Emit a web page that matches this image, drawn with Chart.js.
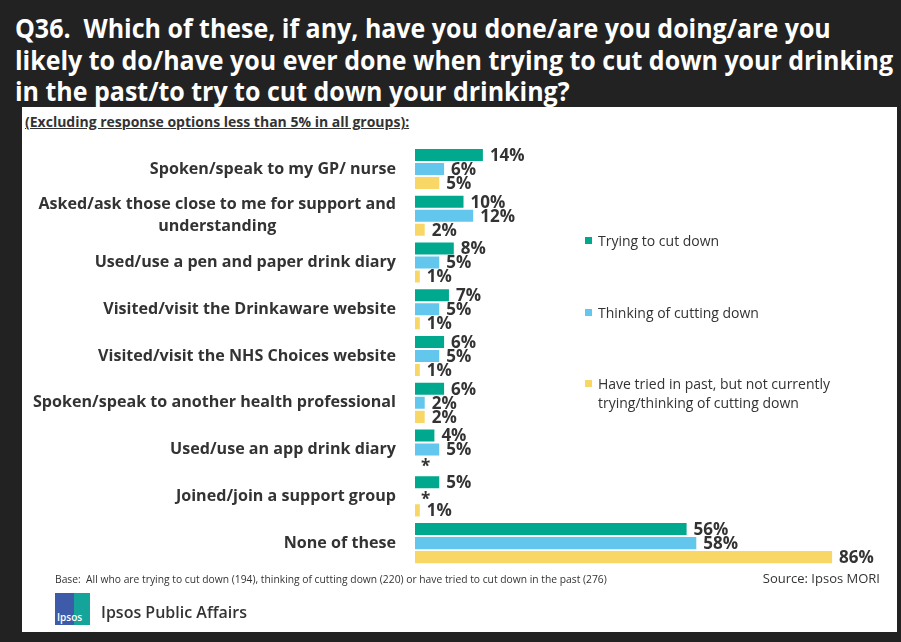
<!DOCTYPE html>
<html>
<head>
<meta charset="utf-8">
<script src="https://cdn.jsdelivr.net/npm/chart.js@4.4.1/dist/chart.umd.min.js"></script>
<style>
  body { margin: 0; width: 901px; height: 642px; overflow: hidden; position: relative; background: #222; font-family: "Open Sans", sans-serif; }
  #title { position: absolute; left: 15px; top: 12px; color: #fff; font-weight: 700; font-size: 27.5px; line-height: 31.5px; white-space: nowrap; transform-origin: 0 0; }
  #title span { display: block; }
  #panel { position: absolute; left: 22px; top: 107px; width: 875px; height: 525px; background: #fff; }
  #sub { position: absolute; left: 25px; top: 112px; font-size: 14px; font-weight: 700; text-decoration: underline; color: #333; white-space: nowrap; }
  #chart { position: absolute; left: 0; top: 0; }
  .leg { position: absolute; left: 585px; font-size: 14px; line-height: 19px; color: #333; }
  .leg i { position: absolute; left: 0; top: 6px; width: 7px; height: 7px; }
  .leg div { margin-left: 13px; white-space: nowrap; }
  #base { position: absolute; left: 55px; top: 571px; font-size: 11px; color: #333; white-space: nowrap; transform-origin: 0 0; }
  #source { position: absolute; right: 21px; top: 569px; font-size: 13px; color: #333; }
  #logo { position: absolute; left: 55px; top: 593px; width: 35px; height: 32px; background: #14a49a; overflow: hidden; }
  #logo .b { position: absolute; left: 0; top: 0; width: 19px; height: 32px; background: #3e5ba9; }
  #logo .t { position: absolute; left: 2px; bottom: 1px; color: #fff; font-size: 10px; font-weight: 600; }
  #ipa { position: absolute; left: 101px; top: 601px; font-size: 16px; font-weight: 600; color: #333; }
</style>
</head>
<body>
<div id="title"><span>Q36.&nbsp; Which of these, if any, have you done/are you doing/are you</span><span id="tl2">likely to do/have you ever done when trying to cut down your drinking</span><span>in the past/to try to cut down your drinking?</span></div>
<div id="panel"></div>
<div id="sub">(Excluding response options less than 5% in all groups):</div>
<canvas id="chart" width="901" height="642"></canvas>
<div id="legend"></div>
<div id="base">Base:&nbsp; All who are trying to cut down (194), thinking of cutting down (220) or have tried to cut down in the past (276)</div>
<div id="source">Source: Ipsos MORI</div>
<div id="logo"><div class="b"></div><div class="t">Ipsos</div></div>
<div id="ipa">Ipsos Public Affairs</div>
<script>
// categories (multi-line ones as arrays)
const categories = [
    'Spoken/speak to my GP/ nurse',
    ['Asked/ask those close to me for support and', 'understanding'],
    'Used/use a pen and paper drink diary',
    'Visited/visit the Drinkaware website',
    'Visited/visit the NHS Choices website',
    'Spoken/speak to another health professional',
    'Used/use an app drink diary',
    'Joined/join a support group',
    'None of these'
];

// null = shown as "*" (less than 0.5%)
const trying   = [14, 10, 8, 7, 6, 6, 4, 5, 56];
const thinking = [6, 12, 5, 5, 5, 2, 5, null, 58];
const past     = [5, 2, 1, 1, 1, 2, null, 1, 86];

const seriesNames = [
    ['Trying to cut down'],
    ['Thinking of cutting down'],
    ['Have tried in past, but not currently', 'trying/thinking of cutting down']
];
const colours = ['#00a88e', '#63c6ec', '#f9d767'];
const legendTops = [231, 303, 374];

// legend
const legendEl = document.getElementById('legend');
seriesNames.forEach((lines, i) => {
    const d = document.createElement('div');
    d.className = 'leg';
    d.style.top = legendTops[i] + 'px';
    d.innerHTML = '<i style="background:' + colours[i] + '"></i>' + lines.map(l => '<div>' + l + '</div>').join('');
    legendEl.appendChild(d);
});

// squeeze title and base line to the width they take in the original
const title = document.getElementById('title');
title.style.transform = 'scaleX(' + (878 / document.getElementById('tl2').offsetWidth) + ')';
const base = document.getElementById('base');
base.style.transform = 'scaleX(' + (552 / base.offsetWidth) + ')';

// category labels on the left, right aligned, extra lines centred under the first
const catLabels = {
    id: 'catLabels',
    afterDraw(chart) {
        const ctx = chart.ctx;
        const y = chart.scales.y;
        ctx.save();
        ctx.font = 'bold 16.1px "Open Sans"';
        ctx.fillStyle = '#333';
        ctx.textBaseline = 'middle';
        ctx.textAlign = 'center';
        categories.forEach((c, i) => {
            const lines = Array.isArray(c) ? c : [c];
            const w = Math.max(...lines.map(l => ctx.measureText(l).width));
            const cx = 396 - w / 2;
            const cy = y.getPixelForValue(i) - (lines.length - 1) * 11;
            lines.forEach((l, j) => ctx.fillText(l, cx, cy + j * 22));
        });
        ctx.restore();
    }
};

// value labels at the bar ends
const valueLabels = {
    id: 'valueLabels',
    afterDatasetsDraw(chart) {
        const ctx = chart.ctx;
        const x0 = chart.scales.x.getPixelForValue(0);
        ctx.save();
        ctx.font = 'bold 17px "Open Sans"';
        ctx.fillStyle = '#333';
        ctx.textBaseline = 'middle';
        ctx.textAlign = 'left';
        chart.data.datasets.forEach((ds, di) => {
            chart.getDatasetMeta(di).data.forEach((bar, i) => {
                const v = ds.data[i];
                if (v === null) {
                    ctx.fillText('*', x0 + 6, bar.y + 4);
                } else {
                    ctx.fillText(v + '%', bar.x + 7, bar.y + 1);
                }
            });
        });
        ctx.restore();
    }
};

const ctx = document.getElementById('chart').getContext('2d');
new Chart(ctx, {
    type: 'bar',
    data: {
        labels: categories,
        datasets: [trying, thinking, past].map((d, i) => ({
            label: seriesNames[i].join(' '),
            data: d,
            backgroundColor: colours[i],
            barPercentage: 0.86,
            categoryPercentage: 0.9
        }))
    },
    options: {
        indexAxis: 'y',
        responsive: false,
        animation: false,
        layout: { padding: { left: 415, right: 49.5, top: 145.6, bottom: 75.5 } },
        scales: {
            x: { display: false, min: 0, max: 90 },
            y: { display: false }
        },
        plugins: {
            legend: { display: false },
            tooltip: { enabled: false }
        }
    },
    plugins: [catLabels, valueLabels]
});
</script>
</body>
</html>
